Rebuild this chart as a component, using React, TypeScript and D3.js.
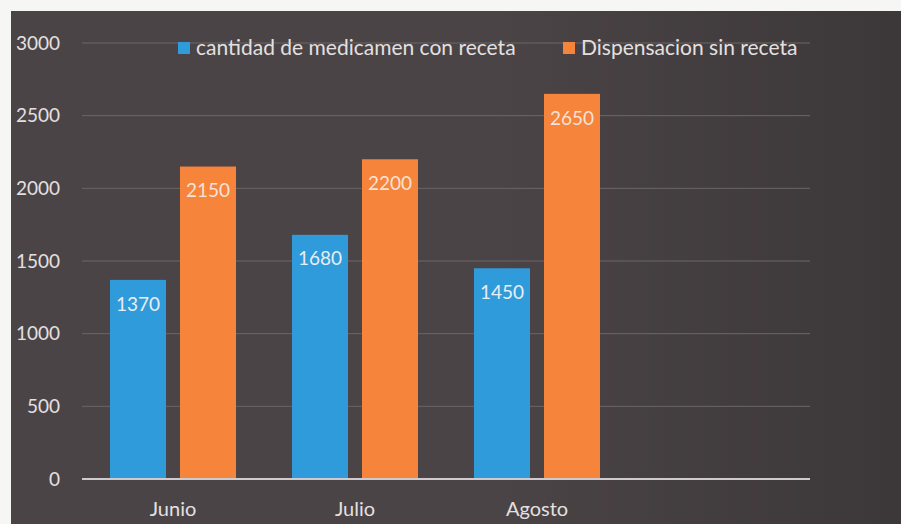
import React, { useRef, useEffect } from 'react';
import * as d3 from 'd3';

// chart data
const months = ['Junio', 'Julio', 'Agosto', ''];
const seriesNames = ['cantidad de medicamen con receta', 'Dispensacion sin receta'];
const conReceta = [1370, 1680, 1450];
const sinReceta = [2150, 2200, 2650];
const yTicks = [0, 500, 1000, 1500, 2000, 2500, 3000];

const W = 901;
const H = 524;
const FONT = 'Lato, "Open Sans", sans-serif';

const App = () => {
  const svgRef = useRef<SVGSVGElement>(null);

  useEffect(() => {
    const svg = d3.select(svgRef.current);
    svg.selectAll('*').remove();

    // photo paper edge + dark chart panel
    svg.append('rect').attr('width', W).attr('height', H).attr('fill', '#f6f6f4');

    const defs = svg.append('defs');
    const grad = defs.append('linearGradient').attr('id', 'bg').attr('x1', 0).attr('x2', 1).attr('y1', 0).attr('y2', 0);
    grad.append('stop').attr('offset', '0%').attr('stop-color', '#4b4446');
    grad.append('stop').attr('offset', '55%').attr('stop-color', '#4a4446');
    grad.append('stop').attr('offset', '100%').attr('stop-color', '#3c3739');

    svg.append('rect')
      .attr('x', 11).attr('y', 11)
      .attr('width', W - 11).attr('height', H - 11)
      .attr('fill', 'url(#bg)');

    const margin = { top: 43, left: 82, right: 91, bottom: 45 };
    const plotW = W - margin.left - margin.right;
    const plotH = H - margin.top - margin.bottom;

    const g = svg.append('g').attr('transform', `translate(${margin.left},${margin.top})`);

    const x = d3.scaleBand<string>()
      .domain(months.map((m, i) => m || `empty${i}`))
      .range([0, plotW])
      .paddingInner(0)
      .paddingOuter(0);

    const y = d3.scaleLinear().domain([0, 3000]).range([plotH, 0]);

    // gridlines
    g.selectAll('.grid')
      .data(yTicks.filter(t => t > 0))
      .enter()
      .append('line')
      .attr('x1', 0).attr('x2', plotW)
      .attr('y1', d => y(d)).attr('y2', d => y(d))
      .attr('stroke', '#6c6668')
      .attr('stroke-width', 1);

    // y tick labels
    g.selectAll('.ylab')
      .data(yTicks)
      .enter()
      .append('text')
      .attr('x', -22)
      .attr('y', d => y(d))
      .attr('dy', '0.35em')
      .attr('text-anchor', 'end')
      .attr('font-family', FONT)
      .attr('font-size', 19)
      .attr('fill', '#e4e0e0')
      .text(d => d);

    const x1 = d3.scaleBand<number>()
      .domain([0, 1])
      .range([28, x.bandwidth() - 28])
      .paddingInner(0.2);

    const colors = ['#2f9bdb', '#f6843a'];
    const series = [conReceta, sinReceta];

    series.forEach((vals, s) => {
      const bars = g.append('g');
      bars.selectAll('rect')
        .data(vals)
        .enter()
        .append('rect')
        .attr('x', (d, i) => (x(months[i]) as number) + (x1(s) as number))
        .attr('y', d => y(d))
        .attr('width', x1.bandwidth())
        .attr('height', d => plotH - y(d))
        .attr('fill', colors[s]);

      bars.selectAll('text')
        .data(vals)
        .enter()
        .append('text')
        .attr('x', (d, i) => (x(months[i]) as number) + (x1(s) as number) + x1.bandwidth() / 2)
        .attr('y', d => y(d) + 24)
        .attr('dy', '0.35em')
        .attr('text-anchor', 'middle')
        .attr('font-family', FONT)
        .attr('font-size', 19)
        .attr('fill', s === 0 ? '#e8eef2' : '#f6e2d6')
        .text(d => d);
    });

    // baseline
    g.append('line')
      .attr('x1', 0).attr('x2', plotW)
      .attr('y1', plotH).attr('y2', plotH)
      .attr('stroke', '#cfcacd')
      .attr('stroke-width', 2);

    // x labels
    g.selectAll('.xlab')
      .data(months.filter(m => m))
      .enter()
      .append('text')
      .attr('x', d => (x(d) as number) + x.bandwidth() / 2)
      .attr('y', plotH + 30)
      .attr('dy', '0.35em')
      .attr('text-anchor', 'middle')
      .attr('font-family', FONT)
      .attr('font-size', 20)
      .attr('fill', '#e4e0e0')
      .text(d => d);

    // legend
    const legendX = [178, 563];
    const legend = svg.append('g');
    seriesNames.forEach((name, i) => {
      legend.append('rect')
        .attr('x', legendX[i]).attr('y', 42)
        .attr('width', 12).attr('height', 12)
        .attr('fill', colors[i]);
      legend.append('text')
        .attr('x', legendX[i] + 18).attr('y', 48)
        .attr('dy', '0.35em')
        .attr('font-family', FONT)
        .attr('font-size', 21)
        .attr('fill', '#e4e0e0')
        .text(name);
    });
  }, []);

  return (
    <div style={{ position: 'absolute', left: 0, top: 0 }}>
      <svg ref={svgRef} width={W} height={H} style={{ display: 'block' }}></svg>
    </div>
  );
};

export default App;
